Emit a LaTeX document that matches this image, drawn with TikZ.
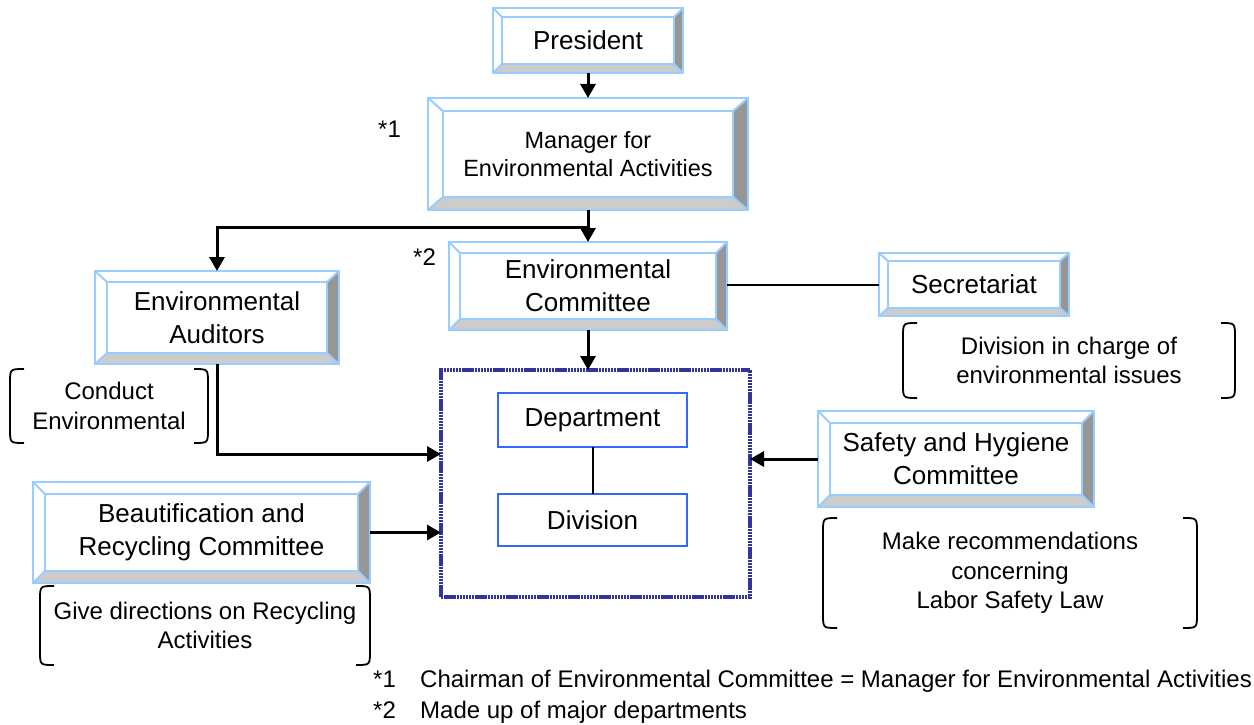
\documentclass[tikz,border=0pt]{standalone}
\usepackage{fontspec}
\setmainfont{Liberation Sans}
\usetikzlibrary{arrows.meta,calc}
\definecolor{bvblue}{HTML}{99CCFF}
\definecolor{bvdark}{HTML}{969696}
\definecolor{bvlight}{HTML}{CCCCCC}
\definecolor{unitblue}{HTML}{333399}
\definecolor{deptblue}{HTML}{3366FF}

% draw the bevel frame around a named node: #1 node, #2 horizontal bevel, #3 vertical bevel
\newcommand\bevelframe[3]{%
  \coordinate (#1-o1) at (#1.north west);
  \coordinate (#1-o2) at (#1.north east);
  \coordinate (#1-o3) at (#1.south east);
  \coordinate (#1-o4) at (#1.south west);
  \coordinate (#1-i1) at ([shift={(#2pt,-#3pt)}]#1.north west);
  \coordinate (#1-i2) at ([shift={(-#2pt,-#3pt)}]#1.north east);
  \coordinate (#1-i3) at ([shift={(-#2pt,#3pt)}]#1.south east);
  \coordinate (#1-i4) at ([shift={(#2pt,#3pt)}]#1.south west);
  \fill[bvdark] (#1-o2) -- (#1-o3) -- (#1-i3) -- (#1-i2) -- cycle;
  \fill[bvlight] (#1-o3) -- (#1-o4) -- (#1-i4) -- (#1-i3) -- cycle;
  \draw[bvedge] (#1-o1) rectangle (#1-o3);
  \draw[bvedge] (#1-i1) rectangle (#1-i3);
  \draw[bvedge] (#1-o1) -- (#1-i1) (#1-o2) -- (#1-i2) (#1-o3) -- (#1-i3) (#1-o4) -- (#1-i4);
}
% parentheses around a named note node
\newcommand\parens[1]{%
  \draw[paren] ([xshift=14pt]#1.north west) .. controls (#1.north west) .. ([yshift=-14pt]#1.north west)
     -- ([yshift=14pt]#1.south west) .. controls (#1.south west) .. ([xshift=14pt]#1.south west);
  \draw[paren] ([xshift=-14pt]#1.north east) .. controls (#1.north east) .. ([yshift=-14pt]#1.north east)
     -- ([yshift=14pt]#1.south east) .. controls (#1.south east) .. ([xshift=-14pt]#1.south east);
}

\begin{document}
\begin{tikzpicture}[x=1pt,y=-1pt,
  bvnode/.style={inner sep=0pt, outer sep=0pt, align=center, font=\fontsize{26}{33}\selectfont},
  bvedge/.style={draw=bvblue, line width=2pt},
  note/.style={inner sep=0pt, outer sep=0pt, align=center, font=\fontsize{24}{29.5}\selectfont},
  paren/.style={draw=black, line width=1.8pt},
  arr/.style={draw=black, line width=3pt, -{Triangle[length=14pt,width=15pt]}},
  plain/.style={draw=black, line width=2pt},
  unitbox/.style={draw=unitblue, line width=3.2pt, dash pattern=on 2.4pt off 0.7pt, inner sep=0pt, outer sep=0pt},
  deptbox/.style={draw=deptblue, line width=2pt, inner sep=0pt, outer sep=0pt, font=\fontsize{26}{30}\selectfont},
  fnote/.style={inner sep=0pt, anchor=base west, font=\fontsize{24}{28}\selectfont}
]
\useasboundingbox (0,0) rectangle (1254,725);

% bevel boxes
\node[bvnode, minimum width=190pt, minimum height=65pt] (pres) at (588,40.5) {President};
\node[bvnode, minimum width=320pt, minimum height=112pt, font=\fontsize{23.5}{28}\selectfont] (mgr) at (588,154) {Manager for\\Environmental Activities};
\node[bvnode, minimum width=244pt, minimum height=93pt] (aud) at (217,317.5) {Environmental\\Auditors};
\node[bvnode, minimum width=278pt, minimum height=88pt] (envc) at (588,286) {Environmental\\Committee};
\node[bvnode, minimum width=190pt, minimum height=63pt] (sec) at (974,284.5) {Secretariat};
\node[bvnode, minimum width=276pt, minimum height=96pt] (saf) at (956,459) {Safety and Hygiene\\Committee};
\node[bvnode, minimum width=337pt, minimum height=101pt] (beau) at (201.5,532.5) {Beautification and\\Recycling Committee};

\bevelframe{pres}{9}{9}
\bevelframe{mgr}{15}{13}
\bevelframe{aud}{12}{11}
\bevelframe{envc}{11}{11}
\bevelframe{sec}{9}{8}
\bevelframe{saf}{12}{12}
\bevelframe{beau}{12}{12}

% unit box with department and division
\node[unitbox, minimum width=309pt, minimum height=227pt] (unit) at (595.5,483.5) {};
\node[deptbox, minimum width=189pt, minimum height=54pt] (dept) at (592.5,420) {Department};
\node[deptbox, minimum width=189pt, minimum height=52pt] (div) at (592.5,520) {Division};

% notes in parentheses
\node[note, minimum width=198pt, minimum height=74pt] (cond) at (109,406) {Conduct\\Environmental};
\node[note, minimum width=332pt, minimum height=75pt] (divb) at (1069,360.5) {Division in charge of\\environmental issues};
\node[note, minimum width=374pt, minimum height=110pt] (make) at (1010,573) {Make recommendations\\concerning\\Labor Safety Law};
\node[note, minimum width=330pt, minimum height=79pt] (give) at (205,625.5) {Give directions on Recycling\\Activities};
\parens{cond}
\parens{divb}
\parens{make}
\parens{give}

% marks
\node[fnote] (m1) at (378,137) {*1};
\node[fnote] (m2) at (413,265) {*2};

% footnotes
\node[fnote] (f1k) at (373,687) {*1};
\node[fnote] (f1) at (420,687) {Chairman of Environmental Committee = Manager for Environmental Activities};
\node[fnote] (f2k) at (373,718) {*2};
\node[fnote] (f2) at (420,718) {Made up of major departments};

% connectors
\draw[arr] (pres.south) -- (mgr.north);
\draw[arr] (mgr.south) -- (envc.north);
\coordinate (j1) at (588,227);
\draw[arr] (j1) -| (aud.north);
\draw[plain] (envc.east |- sec.west) -- (sec.west);
\draw[arr] (envc.south) -- (envc.south |- unit.north);
\coordinate (uin) at (441,454);
\draw[arr] (aud.south) |- (uin);
\draw[arr] (beau.east) -- (beau.east -| unit.west);
\draw[arr] (saf.west) -- (saf.west -| unit.east);
\draw[plain] (dept.south) -- (div.north);
\end{tikzpicture}
\end{document}
